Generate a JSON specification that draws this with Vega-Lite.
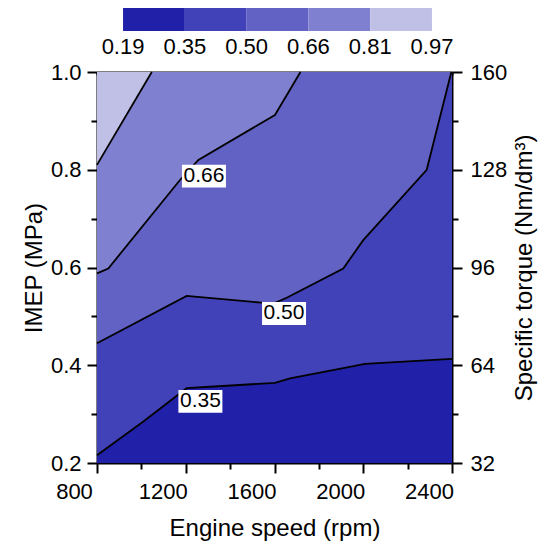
{
  "$schema": "https://vega.github.io/schema/vega-lite/v6.json",
  "width": 355,
  "height": 391,
  "autosize": {"type": "none"},
  "padding": {"left": 97, "top": 72, "right": 95, "bottom": 79},
  "background": "white",
  "config": {
    "font": "Liberation Sans",
    "view": {"stroke": null},
    "axis": {
      "grid": false,
      "labelFlush": false,
      "domainColor": "black",
      "domainWidth": 2,
      "tickColor": "black",
      "tickWidth": 2,
      "labelFont": "Liberation Sans",
      "labelFontSize": 22,
      "labelColor": "black",
      "titleFont": "Liberation Sans",
      "titleFontSize": 24,
      "titleFontWeight": "normal",
      "titleColor": "black"
    },
    "legend": {
      "labelFont": "Liberation Sans",
      "labelFontSize": 22,
      "labelColor": "black"
    }
  },
  "datasets": {
    "bands": [
      {"band": "base", "z": 0.27, "rpm": 800, "imep": 0.2},
      {"band": "base", "z": 0.27, "rpm": 2400, "imep": 0.2},
      {"band": "c035", "z": 0.42, "rpm": 800, "imep": 0.216},
      {"band": "c035", "z": 0.42, "rpm": 1009, "imep": 0.285},
      {"band": "c035", "z": 0.42, "rpm": 1204, "imep": 0.353},
      {"band": "c035", "z": 0.42, "rpm": 1309, "imep": 0.356},
      {"band": "c035", "z": 0.42, "rpm": 1602, "imep": 0.364},
      {"band": "c035", "z": 0.42, "rpm": 1670, "imep": 0.373},
      {"band": "c035", "z": 0.42, "rpm": 1910, "imep": 0.394},
      {"band": "c035", "z": 0.42, "rpm": 2008, "imep": 0.403},
      {"band": "c035", "z": 0.42, "rpm": 2400, "imep": 0.413},
      {"band": "c050", "z": 0.58, "rpm": 800, "imep": 0.445},
      {"band": "c050", "z": 0.58, "rpm": 1204, "imep": 0.542},
      {"band": "c050", "z": 0.58, "rpm": 1542, "imep": 0.528},
      {"band": "c050", "z": 0.58, "rpm": 1600, "imep": 0.527},
      {"band": "c050", "z": 0.58, "rpm": 1655, "imep": 0.538},
      {"band": "c050", "z": 0.58, "rpm": 1910, "imep": 0.598},
      {"band": "c050", "z": 0.58, "rpm": 2000, "imep": 0.656},
      {"band": "c050", "z": 0.58, "rpm": 2286, "imep": 0.8},
      {"band": "c050", "z": 0.58, "rpm": 2397, "imep": 1.0},
      {"band": "c066", "z": 0.74, "rpm": 800, "imep": 0.588},
      {"band": "c066", "z": 0.74, "rpm": 851, "imep": 0.598},
      {"band": "c066", "z": 0.74, "rpm": 1174, "imep": 0.779},
      {"band": "c066", "z": 0.74, "rpm": 1257, "imep": 0.82},
      {"band": "c066", "z": 0.74, "rpm": 1602, "imep": 0.912},
      {"band": "c066", "z": 0.74, "rpm": 1717, "imep": 1.0},
      {"band": "c081", "z": 0.89, "rpm": 800, "imep": 0.81},
      {"band": "c081", "z": 0.89, "rpm": 1047, "imep": 1.0}
    ],
    "labels": [
      {"text": "0.66", "rpm": 1282, "imep": 0.787},
      {"text": "0.50", "rpm": 1643, "imep": 0.506},
      {"text": "0.35", "rpm": 1266, "imep": 0.326}
    ]
  },
  "resolve": {"axis": {"x": "independent", "y": "independent"}},
  "layer": [
    {
      "data": {"name": "bands"},
      "transform": [{"filter": "datum.band === 'base'"}],
      "mark": {"type": "area", "opacity": 1},
      "encoding": {
        "x": {"field": "rpm", "type": "quantitative", "scale": {"domain": [800, 2400], "nice": false, "zero": false},
          "axis": {"orient": "bottom", "values": [800, 1200, 1600, 2000, 2400], "format": "d", "tickSize": 10, "labelPadding": 8, "labelOffset": -23, "title": "Engine speed (rpm)", "titlePadding": 14}},
        "y": {"field": "imep", "type": "quantitative", "stack": null, "scale": {"domain": [0.2, 1.0], "nice": false, "zero": false},
          "axis": {"orient": "left", "values": [0.2, 0.4, 0.6, 0.8, 1.0], "format": ".1f", "tickSize": 10, "labelPadding": 6, "title": "IMEP (MPa)", "titlePadding": 4}},
        "y2": {"datum": 1.0},
        "color": {"field": "z", "type": "quantitative",
          "scale": {"type": "quantize", "domain": [0.19, 0.97], "nice": false, "zero": false, "range": ["#2020a8", "#4141b8", "#6262c4", "#8080d0", "#c0c0e6"]},
          "legend": {"type": "gradient", "orient": "none", "direction": "horizontal", "legendX": 26, "legendY": -64, "gradientLength": 309, "gradientThickness": 23, "gradientStrokeWidth": 0, "values": [0.19, 0.1901, 0.3461, 0.5021, 0.6581, 0.8141, 0.9699], "format": ".2f", "title": null, "labelOffset": 6, "padding": 0, "labelOverlap": false}}
      }
    },
    {
      "data": {"name": "bands"},
      "transform": [{"filter": "datum.band === 'c035'"}],
      "mark": {"type": "area", "opacity": 1},
      "encoding": {
        "x": {"field": "rpm", "type": "quantitative", "scale": {"domain": [800, 2400], "nice": false, "zero": false},
          "axis": {"orient": "top", "values": [800, 1000, 1200, 1400, 1600, 1800, 2000, 2200, 2400], "tickSize": -3, "labels": false, "title": null}},
        "y": {"field": "imep", "type": "quantitative", "stack": null, "scale": {"domain": [0.2, 1.0], "nice": false, "zero": false},
          "axis": {"orient": "right", "values": [0.2, 0.4, 0.6, 0.8, 1.0], "labelExpr": "'' + round(datum.value * 160)", "tickSize": 10, "labelPadding": 8, "title": "Specific torque (Nm/dm³)", "titleAngle": 270, "titleBaseline": "top", "titlePadding": 6}},
        "y2": {"datum": 1.0},
        "color": {"field": "z", "type": "quantitative",
          "scale": {"type": "quantize", "domain": [0.19, 0.97], "nice": false, "zero": false, "range": ["#2020a8", "#4141b8", "#6262c4", "#8080d0", "#c0c0e6"]}}
      }
    },
    {
      "data": {"name": "bands"},
      "transform": [{"filter": "datum.band === 'c050'"}],
      "mark": {"type": "area", "opacity": 1},
      "encoding": {
        "x": {"field": "rpm", "type": "quantitative", "scale": {"domain": [800, 2400], "nice": false, "zero": false},
          "axis": {"orient": "bottom", "values": [1000, 1400, 1800, 2200], "tickSize": 6, "labels": false, "domain": false, "title": null}},
        "y": {"field": "imep", "type": "quantitative", "stack": null, "scale": {"domain": [0.2, 1.0], "nice": false, "zero": false},
          "axis": {"orient": "left", "values": [0.3, 0.5, 0.7, 0.9], "tickSize": 6, "labels": false, "domain": false, "title": null}},
        "y2": {"datum": 1.0},
        "color": {"field": "z", "type": "quantitative",
          "scale": {"type": "quantize", "domain": [0.19, 0.97], "nice": false, "zero": false, "range": ["#2020a8", "#4141b8", "#6262c4", "#8080d0", "#c0c0e6"]}}
      }
    },
    {
      "data": {"name": "bands"},
      "transform": [{"filter": "datum.band === 'c066'"}],
      "mark": {"type": "area", "opacity": 1},
      "encoding": {
        "x": {"field": "rpm", "type": "quantitative", "scale": {"domain": [800, 2400], "nice": false, "zero": false}, "axis": null},
        "y": {"field": "imep", "type": "quantitative", "stack": null, "scale": {"domain": [0.2, 1.0], "nice": false, "zero": false},
          "axis": {"orient": "right", "values": [0.3, 0.5, 0.7, 0.9], "tickSize": 6, "labels": false, "domain": false, "title": null}},
        "y2": {"datum": 1.0},
        "color": {"field": "z", "type": "quantitative",
          "scale": {"type": "quantize", "domain": [0.19, 0.97], "nice": false, "zero": false, "range": ["#2020a8", "#4141b8", "#6262c4", "#8080d0", "#c0c0e6"]}}
      }
    },
    {
      "data": {"name": "bands"},
      "transform": [{"filter": "datum.band === 'c081'"}],
      "mark": {"type": "area", "opacity": 1},
      "encoding": {
        "x": {"field": "rpm", "type": "quantitative", "scale": {"domain": [800, 2400], "nice": false, "zero": false}, "axis": null},
        "y": {"field": "imep", "type": "quantitative", "stack": null, "scale": {"domain": [0.2, 1.0], "nice": false, "zero": false}, "axis": null},
        "y2": {"datum": 1.0},
        "color": {"field": "z", "type": "quantitative",
          "scale": {"type": "quantize", "domain": [0.19, 0.97], "nice": false, "zero": false, "range": ["#2020a8", "#4141b8", "#6262c4", "#8080d0", "#c0c0e6"]}}
      }
    },
    {
      "data": {"name": "bands"},
      "transform": [{"filter": "datum.band !== 'base'"}],
      "mark": {"type": "line", "color": "black", "strokeWidth": 1.8},
      "encoding": {
        "x": {"field": "rpm", "type": "quantitative", "scale": {"domain": [800, 2400], "nice": false, "zero": false}, "axis": null},
        "y": {"field": "imep", "type": "quantitative", "scale": {"domain": [0.2, 1.0], "nice": false, "zero": false}, "axis": null},
        "detail": {"field": "band", "type": "nominal"}
      }
    },
    {
      "data": {"name": "labels"},
      "mark": {"type": "point", "shape": "M-1,-0.52H1V0.52H-1Z", "size": 1936, "filled": true, "fill": "white", "opacity": 1, "strokeWidth": 0},
      "encoding": {
        "x": {"field": "rpm", "type": "quantitative", "scale": {"domain": [800, 2400], "nice": false, "zero": false}, "axis": null},
        "y": {"field": "imep", "type": "quantitative", "scale": {"domain": [0.2, 1.0], "nice": false, "zero": false}, "axis": null}
      }
    },
    {
      "data": {"name": "labels"},
      "mark": {"type": "text", "fontSize": 21, "color": "black", "align": "center", "baseline": "middle", "font": "Liberation Sans"},
      "encoding": {
        "x": {"field": "rpm", "type": "quantitative", "scale": {"domain": [800, 2400], "nice": false, "zero": false}, "axis": null},
        "y": {"field": "imep", "type": "quantitative", "scale": {"domain": [0.2, 1.0], "nice": false, "zero": false}, "axis": null},
        "text": {"field": "text", "type": "nominal"}
      }
    }
  ]
}
